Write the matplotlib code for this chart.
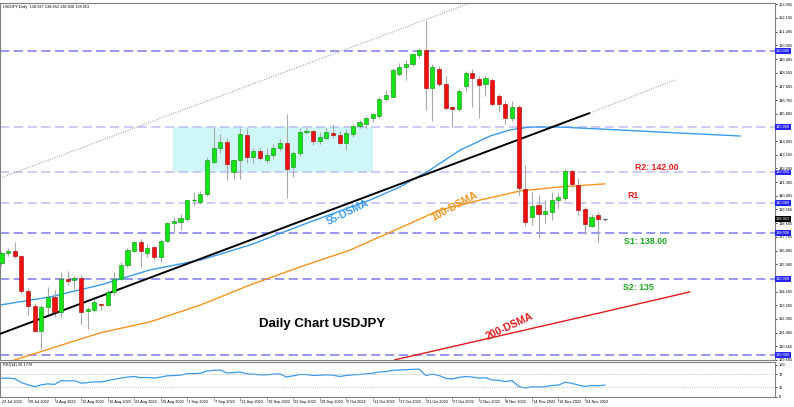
import matplotlib
matplotlib.use('Agg')
import matplotlib.pyplot as plt
import matplotlib.transforms as mtransforms

# ---------------- data ----------------
bar_idx = list(range(1, 93))
opens = [136.03,136.69,136.82,136.50,134.20,133.21,131.57,133.15,133.80,132.85,
         135.00,134.90,135.05,132.90,132.95,133.35,133.28,134.13,134.98,135.90,
         136.82,137.41,136.69,137.08,136.43,137.48,138.66,138.72,138.92,140.18,
         140.03,140.56,142.72,143.64,144.03,142.00,142.79,144.49,143.05,143.44,
         142.85,143.18,143.64,143.97,142.33,143.31,144.69,144.75,144.10,144.30,
         144.62,144.49,143.97,144.56,145.08,145.21,145.60,145.74,146.85,146.98,
         148.49,148.95,149.15,149.74,150.07,147.57,148.82,147.84,146.33,146.20,
         147.70,148.56,148.16,147.84,148.10,147.05,146.52,145.60,146.33,140.89,
         139.05,139.84,139.25,139.38,140.16,140.30,142.07,141.15,139.57,138.46,
         139.18,138.927]
highs = [136.85,137.00,137.40,136.55,134.40,133.40,133.28,134.45,134.30,135.45,
         135.55,135.20,135.25,133.15,133.70,133.40,134.25,135.45,136.10,137.00,
         137.50,137.65,137.30,137.15,137.60,138.72,139.05,139.30,140.20,140.70,
         140.80,143.00,144.95,144.55,144.30,142.90,144.95,144.95,143.64,143.64,
         143.64,143.90,144.23,145.87,143.44,144.90,144.90,144.82,144.69,144.90,
         145.20,144.75,144.88,145.20,145.47,145.74,145.93,146.98,147.40,148.85,
         149.21,149.41,149.87,150.20,151.94,149.15,149.02,148.36,146.39,147.51,
         148.69,148.82,148.36,148.36,148.23,147.18,146.72,146.72,146.46,142.46,
         140.69,140.49,140.16,140.69,140.62,142.26,142.26,141.61,139.70,139.25,
         139.38,138.962]
lows = [135.85,136.50,136.40,134.10,132.60,131.50,130.39,132.60,132.50,132.50,
        134.60,134.30,132.05,131.70,132.80,132.95,133.20,133.95,134.90,135.75,
        136.75,135.80,136.43,136.25,136.10,137.40,138.00,138.20,138.80,139.85,
        139.95,140.45,142.60,143.25,141.50,141.60,141.60,142.60,142.60,142.80,
        142.60,142.98,143.44,140.30,141.67,143.10,144.50,143.84,143.90,144.23,
        144.30,143.90,143.50,144.36,144.95,144.95,145.34,145.60,146.70,146.95,
        148.36,148.10,149.00,149.54,146.13,145.41,147.70,146.13,145.02,146.07,
        147.38,146.33,145.60,147.05,146.39,146.00,145.21,145.41,140.50,138.46,
        138.52,137.67,138.66,138.85,139.64,140.16,141.02,139.18,137.93,138.39,
        137.41,138.838]
closes = [136.69,136.82,136.50,134.20,133.21,131.57,133.15,133.80,132.85,135.00,
          134.85,135.05,132.85,133.00,133.45,133.28,134.13,134.98,135.90,136.89,
          137.41,136.82,137.02,136.43,137.48,138.66,138.79,138.98,140.16,140.20,
          140.56,142.79,143.64,144.03,142.59,142.85,144.56,143.05,143.44,142.92,
          143.18,143.64,143.97,142.26,143.31,144.69,144.75,144.10,144.36,144.69,
          144.49,143.97,144.62,145.08,145.34,145.60,145.87,146.85,147.11,148.75,
          148.95,149.15,149.80,150.07,147.57,148.95,147.84,146.26,146.20,147.38,
          148.56,148.23,147.77,148.23,146.52,146.52,145.60,146.33,140.95,138.72,
          139.77,139.25,139.44,140.16,140.36,142.07,141.21,139.51,138.59,139.05,
          138.92,138.953]

rsi_vals = [57,58,56,44,37,31,37,40,38,50,49,50,42,44,46,46,50,54,58,61,
            63,59,60,58,61,65,66,67,72,72,73,80,82,83,74,75,77,71,70,68,
            68,70,71,61,65,69,69,66,67,68,67,63,66,68,69,71,73,77,78,82,
            83,84,85,86,66,70,66,57,55,60,63,61,58,59,52,51,47,50,32,27,
            31,30,31,35,36,45,42,36,32,35,34,36.18]

# moving averages (bar index, price)
ma55_x = [0.77,8.3,15.9,23.4,31.0,38.5,47.5,56.6,61.1,65.6,70.2,74.7,77.7,80.7,85.2,91.3,100.3,112.4]
ma55_y = [133.28,133.81,134.60,135.59,136.24,137.23,138.74,140.19,141.05,142.16,143.48,144.40,144.80,144.99,144.99,144.86,144.66,144.40]
ma100_x = [0.77,3.0,15.9,23.4,31.0,38.5,46.0,53.6,61.1,67.1,73.2,79.2,85.2,92.0]
ma100_y = [129.33,129.67,131.45,132.17,133.28,134.60,135.78,136.90,138.35,139.53,140.19,140.78,141.05,141.25]
ma200_x = [60.3,76.1,91.2,104.8]
ma200_y = [129.67,131.25,132.76,134.14]

# trend lines (bar index, price)
trend_x = [0.77, 89.76]
trend_y = [131.38, 145.92]
trend_ext_x = [89.76, 102.6]
trend_ext_y = [145.92, 148.09]
chan_x = [0.77, 71.7]
chan_y = [141.63, 153.15]

levels_dark = [150.0, 138.0, 135.0, 130.0]
levels_light = [145.0, 142.0, 140.0]
box_x = [26.87, 57.03]
box_y = [142.0, 145.0]

price_ticks = [round(153.065 - 0.9 * k, 3) for k in range(27)]
box_levels = [150.0, 145.0, 142.0, 140.0, 138.0, 135.0, 130.0]
last_price = 138.953

date_idx = [5,9,13,17,21,25,29,33,37,41,45,49,53,57,61,65,69,73,77,81,85,89]
date_lbl = ['29 Jul 2022','4 Aug 2022','10 Aug 2022','16 Aug 2022','22 Aug 2022','26 Aug 2022',
            '1 Sep 2022','7 Sep 2022','13 Sep 2022','19 Sep 2022','23 Sep 2022','29 Sep 2022',
            '5 Oct 2022','11 Oct 2022','17 Oct 2022','21 Oct 2022','27 Oct 2022','2 Nov 2022',
            '8 Nov 2022','14 Nov 2022','18 Nov 2022','24 Nov 2022']
first_date = '22 Jul 2022'

# ---------------- figure ----------------
W, H = 794, 407
fig = plt.figure(figsize=(W / 100, H / 100), dpi=100)
fig.patch.set_facecolor('white')

def px_axes(l, t, r, b):
    return fig.add_axes([l / W, 1 - b / H, (r - l) / W, (b - t) / H])

ax = px_axes(0, 3, 775, 360)
axr = px_axes(0, 362, 775, 397)

XL = (0.774, 117.67)
ax.set_xlim(*XL)
ax.set_ylim(129.663, 153.15)
axr.set_xlim(*XL)
axr.set_ylim(-1, 108)

SF = 'Liberation Sans'
small = dict(fontsize=2.8, family=SF)

for a in (ax, axr):
    for s in a.spines.values():
        s.set_color('#808080')
        s.set_linewidth(0.8)
    a.set_xticks([])

# cyan box
ax.fill_between(box_x, box_y[0], box_y[1], color='#CFF7F7', zorder=0.5, lw=0)

# horizontal levels
for lv in levels_dark:
    ax.axhline(lv, color='#7B7BEF', lw=1.1, ls=(0, (6, 3)), zorder=1)
for lv in levels_light:
    ax.axhline(lv, color='#BDBDF2', lw=1.1, ls=(0, (6, 3)), zorder=1)

# trend lines
ax.plot(chan_x, chan_y, color='#8C8C8C', lw=0.7, ls=(0, (1, 1.5)), zorder=2)
ax.plot(trend_ext_x, trend_ext_y, color='#8C8C8C', lw=0.7, ls=(0, (1, 1.5)), zorder=2)

# moving averages
ax.plot(ma55_x, ma55_y, color='#3A9BEA', lw=1.0, zorder=2.2)
ax.plot(ma100_x, ma100_y, color='#F7941D', lw=1.0, zorder=2.2)
ax.plot(ma200_x, ma200_y, color='#E31B1B', lw=1.0, zorder=2.2)

# candles
bw = 0.62
for i, o, h, l, c in zip(bar_idx, opens, highs, lows, closes):
    ax.vlines(i, l, h, color='#A8A8A8', lw=0.8, zorder=3)
    up = c >= o
    lo, hi = min(o, c), max(o, c)
    if hi - lo < 0.05:
        col = '#505050' if i == bar_idx[-1] else ('#00B000' if up else '#C00000')
        ax.hlines((o + c) / 2, i - bw / 2, i + bw / 2, color=col, lw=0.9, zorder=4)
    else:
        ax.bar(i, hi - lo, bottom=lo, width=bw, color='#13E413' if up else '#F01010',
               edgecolor='#0A8A0A' if up else '#A00000', lw=0.4, zorder=4)

ax.plot(trend_x, trend_y, color='#000000', lw=1.4, zorder=3.5, solid_capstyle='butt')

# right axis price labels (those hidden under the level boxes are skipped)
shown_ticks = [p for p in price_ticks if min(abs(p - b) for b in box_levels) > 0.1]
ax.yaxis.tick_right()
ax.set_yticks(shown_ticks)
ax.set_yticklabels(['%.3f' % p for p in shown_ticks], **small)
ax.tick_params(axis='y', length=1.5, width=0.5, pad=1, colors='#000000')
for lv in box_levels:
    ax.text(1.0015, lv, '%.3f' % lv, transform=ax.get_yaxis_transform(), color='white',
            fontsize=2.8, family=SF, ha='left', va='center', zorder=10, clip_on=False,
            bbox=dict(boxstyle='square,pad=0.25', fc='#2424F5', ec='none'))
ax.text(1.0015, last_price, '%.3f' % last_price, transform=ax.get_yaxis_transform(), color='white',
        fontsize=2.8, family=SF, ha='left', va='center', zorder=11, clip_on=False,
        bbox=dict(boxstyle='square,pad=0.25', fc='#000000', ec='none'))

# header text
ax.text(0.004, 0.993, 'USDJPY,Daily  138.927 138.962 138.838 138.953', transform=ax.transAxes,
        ha='left', va='top', **small)

# annotations, placed in pixel coordinates from the top-left
lab = dict(family=SF, fontweight='bold', ha='center', va='center')
def ptext(x, y, s, **kw):
    fig.text(x / W, 1 - y / H, s, **kw)

ptext(322, 324, 'Daily Chart USDJPY', fontsize=9.5, color='black', **lab)
ptext(657, 167, 'R2: 142.00', fontsize=6.3, color='#EE1C1C', **lab)
ptext(633, 196, 'R1', fontsize=6.3, color='#EE1C1C', **lab)
ptext(645, 242, 'S1: 138.00', fontsize=6.3, color='#1DAA1D', **lab)
ptext(638, 287, 'S2: 135', fontsize=6.3, color='#1DAA1D', **lab)
ptext(348, 212, '55-DSMA', fontsize=7.5, color='#3A9BEA', rotation=26, **lab)
ptext(455, 206, '100-DSMA', fontsize=7.5, color='#F7941D', rotation=28, **lab)
ptext(510, 326, '200-DSMA', fontsize=7.5, color='#E31B1B', rotation=25, **lab)

# RSI panel
axr.plot(bar_idx, rsi_vals, color='#3A9BEA', lw=0.9)
for lv in (70, 30):
    axr.axhline(lv, color='#B0B0B0', lw=0.6, ls=(0, (1, 1.5)))
axr.yaxis.tick_right()
axr.set_yticks([100, 70, 30, 0])
axr.set_yticklabels(['100', '70', '30', '0'], **small)
axr.tick_params(axis='y', length=1.5, width=0.5, pad=1)
axr.text(0.004, 0.96, 'RSI(14) 36.1776', transform=axr.transAxes, ha='left', va='top', **small)

# date labels
tr = mtransforms.blended_transform_factory(axr.transData, axr.transAxes)
axr.text(1.05, -0.08, first_date, transform=tr, ha='left', va='top', **small)
for d, s in zip(date_idx, date_lbl):
    axr.text(d + 0.15, -0.08, s, transform=tr, ha='left', va='top', **small)
    axr.plot([d, d], [-0.02, -0.1], transform=tr, color='#808080', lw=0.5, clip_on=False)

fig.savefig('out.png', dpi=100)
